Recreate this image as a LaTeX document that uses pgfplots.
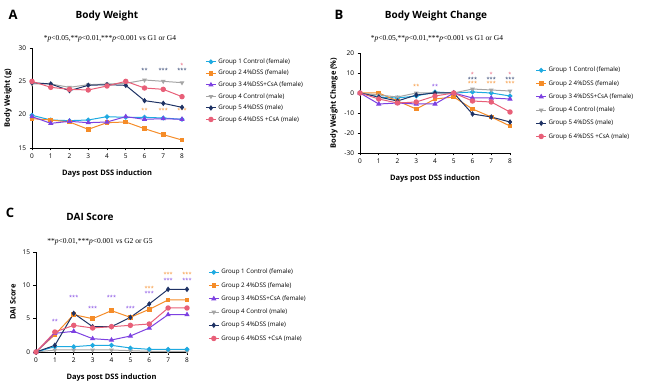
\documentclass[border=0pt]{standalone}
\usepackage{fontspec}
\setmainfont{Open Sans}
\newfontfamily\serifp{Liberation Serif}
\usepackage{pgfplots}
\pgfplotsset{compat=1.18}
\definecolor{cg1}{RGB}{30,170,225}
\definecolor{cg2}{RGB}{245,140,40}
\definecolor{cg3}{RGB}{125,65,225}
\definecolor{cg4}{RGB}{165,165,165}
\definecolor{cg5}{RGB}{30,50,100}
\definecolor{cg6}{RGB}{232,95,120}
\pgfplotsset{
  panel/.style={scale only axis, width=150pt, height=100pt,
    axis lines=left, axis line style={-, line width=0.9pt},
    xmin=0, xmax=8, xtick={0,...,8},
    tick align=outside, tick style={black, line width=0.7pt},
    major tick length=2.5pt,
    tick label style={font=\fontsize{6.5}{7}\selectfont},
    /pgf/number format/assume math mode=true,
    label style={font=\bfseries\fontsize{7.5}{8}\selectfont},
    xlabel={Days post DSS induction},
    xlabel style={yshift=-4pt},
    clip=false,
    legend cell align=left,
    legend style={draw=none, fill=none, font=\fontsize{6.2}{7}\selectfont, anchor=north west},
    legend image code/.code={\draw[mark repeat=2,mark phase=2] plot coordinates {(0pt,0pt)(5pt,0pt)(10pt,0pt)};},
  },
  g1/.style={cg1, line width=1pt, mark=*, mark size=1.9pt},
  g2/.style={cg2, line width=1pt, mark=square*, mark size=1.8pt},
  g3/.style={cg3, line width=1pt, mark=triangle*, mark size=2.1pt},
  g4/.style={cg4, line width=1pt, mark=triangle*, mark size=1.8pt, mark options={rotate=180}},
  g5/.style={cg5, line width=1pt, mark=diamond*, mark size=2pt},
  g6/.style={cg6, line width=1pt, mark=*, mark size=2.2pt},
}
\newcommand{\st}{\fontsize{5.5}{6}\selectfont}
\begin{document}
\begin{tikzpicture}
\path[use as bounding box] (0,0) rectangle (650pt,388pt);
% ---------- Panel A ----------
\node[font=\bfseries\fontsize{13}{14}\selectfont] at (13pt,373pt) {A};
\node[font=\bfseries\fontsize{10}{11}\selectfont] at (107pt,372pt) {Body Weight};
\node[font=\serifp\fontsize{7.5}{8}\selectfont] at (110pt,349pt) {*\textit{p}<0.05,**\textit{p}<0.01,***\textit{p}<0.001 vs G1 or G4};
\begin{axis}[panel, at={(32pt,240pt)}, anchor=south west,
  ymin=15, ymax=30, ytick={15,20,25,30},
  ylabel={Body Weight (g)},
  legend style={at={(1.135,0.935)}, row sep=1.3pt}]
\addplot[g1] coordinates {(0,19.9)(1,19.2)(2,19.1)(3,19.2)(4,19.7)(5,19.6)(6,19.6)(7,19.5)(8,19.3)};
\addlegendentry{Group 1 Control (female)}
\addplot[g2] coordinates {(0,19.4)(1,19.2)(2,18.9)(3,17.8)(4,18.8)(5,18.9)(6,17.9)(7,17.0)(8,16.2)};
\addlegendentry{Group 2 4\%DSS (female)}
\addplot[g3] coordinates {(0,19.7)(1,18.7)(2,19.0)(3,18.8)(4,18.9)(5,19.7)(6,19.3)(7,19.4)(8,19.3)};
\addlegendentry{Group 3 4\%DSS+CsA (female)}
\addplot[g4] coordinates {(0,24.6)(1,24.6)(2,24.1)(3,24.5)(4,24.6)(5,24.7)(6,25.2)(7,25.0)(8,24.8)};
\addlegendentry{Group 4 Control (male)}
\addplot[g5] coordinates {(0,24.8)(1,24.6)(2,23.6)(3,24.4)(4,24.5)(5,24.4)(6,22.1)(7,21.7)(8,21.1)};
\addlegendentry{Group 5 4\%DSS (male)}
\addplot[g6] coordinates {(0,25.0)(1,24.1)(2,23.8)(3,23.7)(4,24.3)(5,25.0)(6,24.0)(7,23.8)(8,22.7)};
\addlegendentry{Group 6 4\%DSS +CsA (male)}
\node[text=cg5,font=\st] at (axis cs:6,26.6) {**};
\node[text=cg5,font=\st] at (axis cs:7,26.6) {***};
\node[text=cg5,font=\st] at (axis cs:8,26.6) {***};
\node[text=cg6,font=\st] at (axis cs:8,27.4) {*};
\node[text=cg2,font=\st] at (axis cs:6,20.6) {**};
\node[text=cg2,font=\st] at (axis cs:7,20.6) {***};
\node[text=cg2,font=\st] at (axis cs:8,20.6) {***};
\end{axis}
% ---------- Panel B ----------
\node[font=\bfseries\fontsize{13}{14}\selectfont] at (339pt,373pt) {B};
\node[font=\bfseries\fontsize{10}{11}\selectfont] at (436pt,372pt) {Body Weight Change};
\node[font=\serifp\fontsize{7.5}{8}\selectfont] at (437pt,349pt) {*\textit{p}<0.05,**\textit{p}<0.01,***\textit{p}<0.001 vs G1 or G4};
\begin{axis}[panel, at={(360pt,235pt)}, anchor=south west,
  ymin=-30, ymax=20, ytick={-30,-20,...,20},
  ylabel={Body Weight Change (\%)},
  legend style={at={(1.15,0.9)}, row sep=3pt}]
\addplot[g1] coordinates {(0,0)(1,-2)(2,-2.5)(3,-1.5)(4,0.5)(5,0)(6,0.5)(7,0)(8,-1.5)};
\addlegendentry{Group 1 Control (female)}
\addplot[g2] coordinates {(0,0)(1,0)(2,-4)(3,-8)(4,-3)(5,-2)(6,-8)(7,-12)(8,-16.5)};
\addlegendentry{Group 2 4\%DSS (female)}
\addplot[g3] coordinates {(0,0)(1,-5.5)(2,-5)(3,-5.5)(4,-5.5)(5,0)(6,-2.5)(7,-2.5)(8,-3)};
\addlegendentry{Group 3 4\%DSS+CsA (female)}
\addplot[g4] coordinates {(0,0)(1,-1)(2,-2)(3,0)(4,0)(5,0)(6,2)(7,1.5)(8,1)};
\addlegendentry{Group 4 Control (male)}
\addplot[g5] coordinates {(0,0)(1,-2)(2,-4)(3,-1)(4,0)(5,0)(6,-10.5)(7,-12)(8,-14.5)};
\addlegendentry{Group 5 4\%DSS (male)}
\addplot[g6] coordinates {(0,0)(1,-3)(2,-5)(3,-4.5)(4,-1.5)(5,0)(6,-4)(7,-4.5)(8,-9.5)};
\addlegendentry{Group 6 4\%DSS +CsA (male)}
\node[text=cg2,font=\st] at (axis cs:3,3.5) {**};
\node[text=cg3,font=\st] at (axis cs:4,3.5) {**};
\node[text=cg6,font=\st] at (axis cs:6,9.5) {*};
\node[text=cg5,font=\st] at (axis cs:6,7) {***};
\node[text=cg2,font=\st] at (axis cs:6,5) {***};
\node[text=cg6,font=\st] at (axis cs:7,9.5) {*};
\node[text=cg5,font=\st] at (axis cs:7,7) {***};
\node[text=cg2,font=\st] at (axis cs:7,5) {***};
\node[text=cg6,font=\st] at (axis cs:8,9.5) {*};
\node[text=cg5,font=\st] at (axis cs:8,7) {***};
\node[text=cg2,font=\st] at (axis cs:8,5) {***};
\end{axis}
% ---------- Panel C ----------
\node[font=\bfseries\fontsize{13}{14}\selectfont] at (10pt,175pt) {C};
\node[font=\bfseries\fontsize{10}{11}\selectfont] at (90pt,171pt) {DAI Score};
\node[font=\serifp\fontsize{7.5}{8}\selectfont] at (100pt,146pt) {**\textit{p}<0.01,***\textit{p}<0.001 vs G2 or G5};
\begin{axis}[panel, at={(36pt,36pt)}, anchor=south west, width=151pt,
  ymin=0, ymax=15, ytick={0,5,10,15},
  ylabel={DAI Score},
  legend style={at={(1.12,0.87)}, row sep=3pt}]
\addplot[g4, forget plot] coordinates {(0,0)(1,0.3)(2,0.3)(3,0.3)(4,0.3)(5,0.2)(6,0.1)(7,0.1)(8,0.1)};
\addplot[g1, forget plot] coordinates {(0,0)(1,0.8)(2,0.8)(3,1.0)(4,1.0)(5,0.6)(6,0.4)(7,0.4)(8,0.4)};
\addplot[g2, forget plot] coordinates {(0,0)(1,2.6)(2,5.6)(3,5.0)(4,6.2)(5,5.2)(6,6.4)(7,7.8)(8,7.8)};
\addplot[g3, forget plot] coordinates {(0,0)(1,2.8)(2,3.1)(3,2.0)(4,1.8)(5,2.4)(6,3.6)(7,5.6)(8,5.6)};
\addplot[g5, forget plot] coordinates {(0,0)(1,1.0)(2,5.8)(3,3.8)(4,3.8)(5,5.2)(6,7.2)(7,9.4)(8,9.4)};
\addplot[g6, forget plot] coordinates {(0,0)(1,3.0)(2,4.0)(3,3.6)(4,3.8)(5,4.0)(6,4.2)(7,6.6)(8,6.6)};
\addlegendimage{g1}\addlegendentry{Group 1 Control (female)}
\addlegendimage{g2}\addlegendentry{Group 2 4\%DSS (female)}
\addlegendimage{g3}\addlegendentry{Group 3 4\%DSS+CsA (female)}
\addlegendimage{g4}\addlegendentry{Group 4 Control (male)}
\addlegendimage{g5}\addlegendentry{Group 5 4\%DSS (male)}
\addlegendimage{g6}\addlegendentry{Group 6 4\%DSS +CsA (male)}
\node[text=cg3,font=\st] at (axis cs:1,4.6) {**};
\node[text=cg3,font=\st] at (axis cs:2,8.2) {***};
\node[text=cg3,font=\st] at (axis cs:3,6.6) {***};
\node[text=cg3,font=\st] at (axis cs:4,8.2) {***};
\node[text=cg3,font=\st] at (axis cs:5,6.6) {***};
\node[text=cg2,font=\st] at (axis cs:6,9.6) {***};
\node[text=cg3,font=\st] at (axis cs:6,8.8) {***};
\node[text=cg2,font=\st] at (axis cs:7,11.6) {***};
\node[text=cg3,font=\st] at (axis cs:7,10.8) {***};
\node[text=cg2,font=\st] at (axis cs:8,11.6) {***};
\node[text=cg3,font=\st] at (axis cs:8,10.8) {***};
\end{axis}
\end{tikzpicture}
\end{document}
